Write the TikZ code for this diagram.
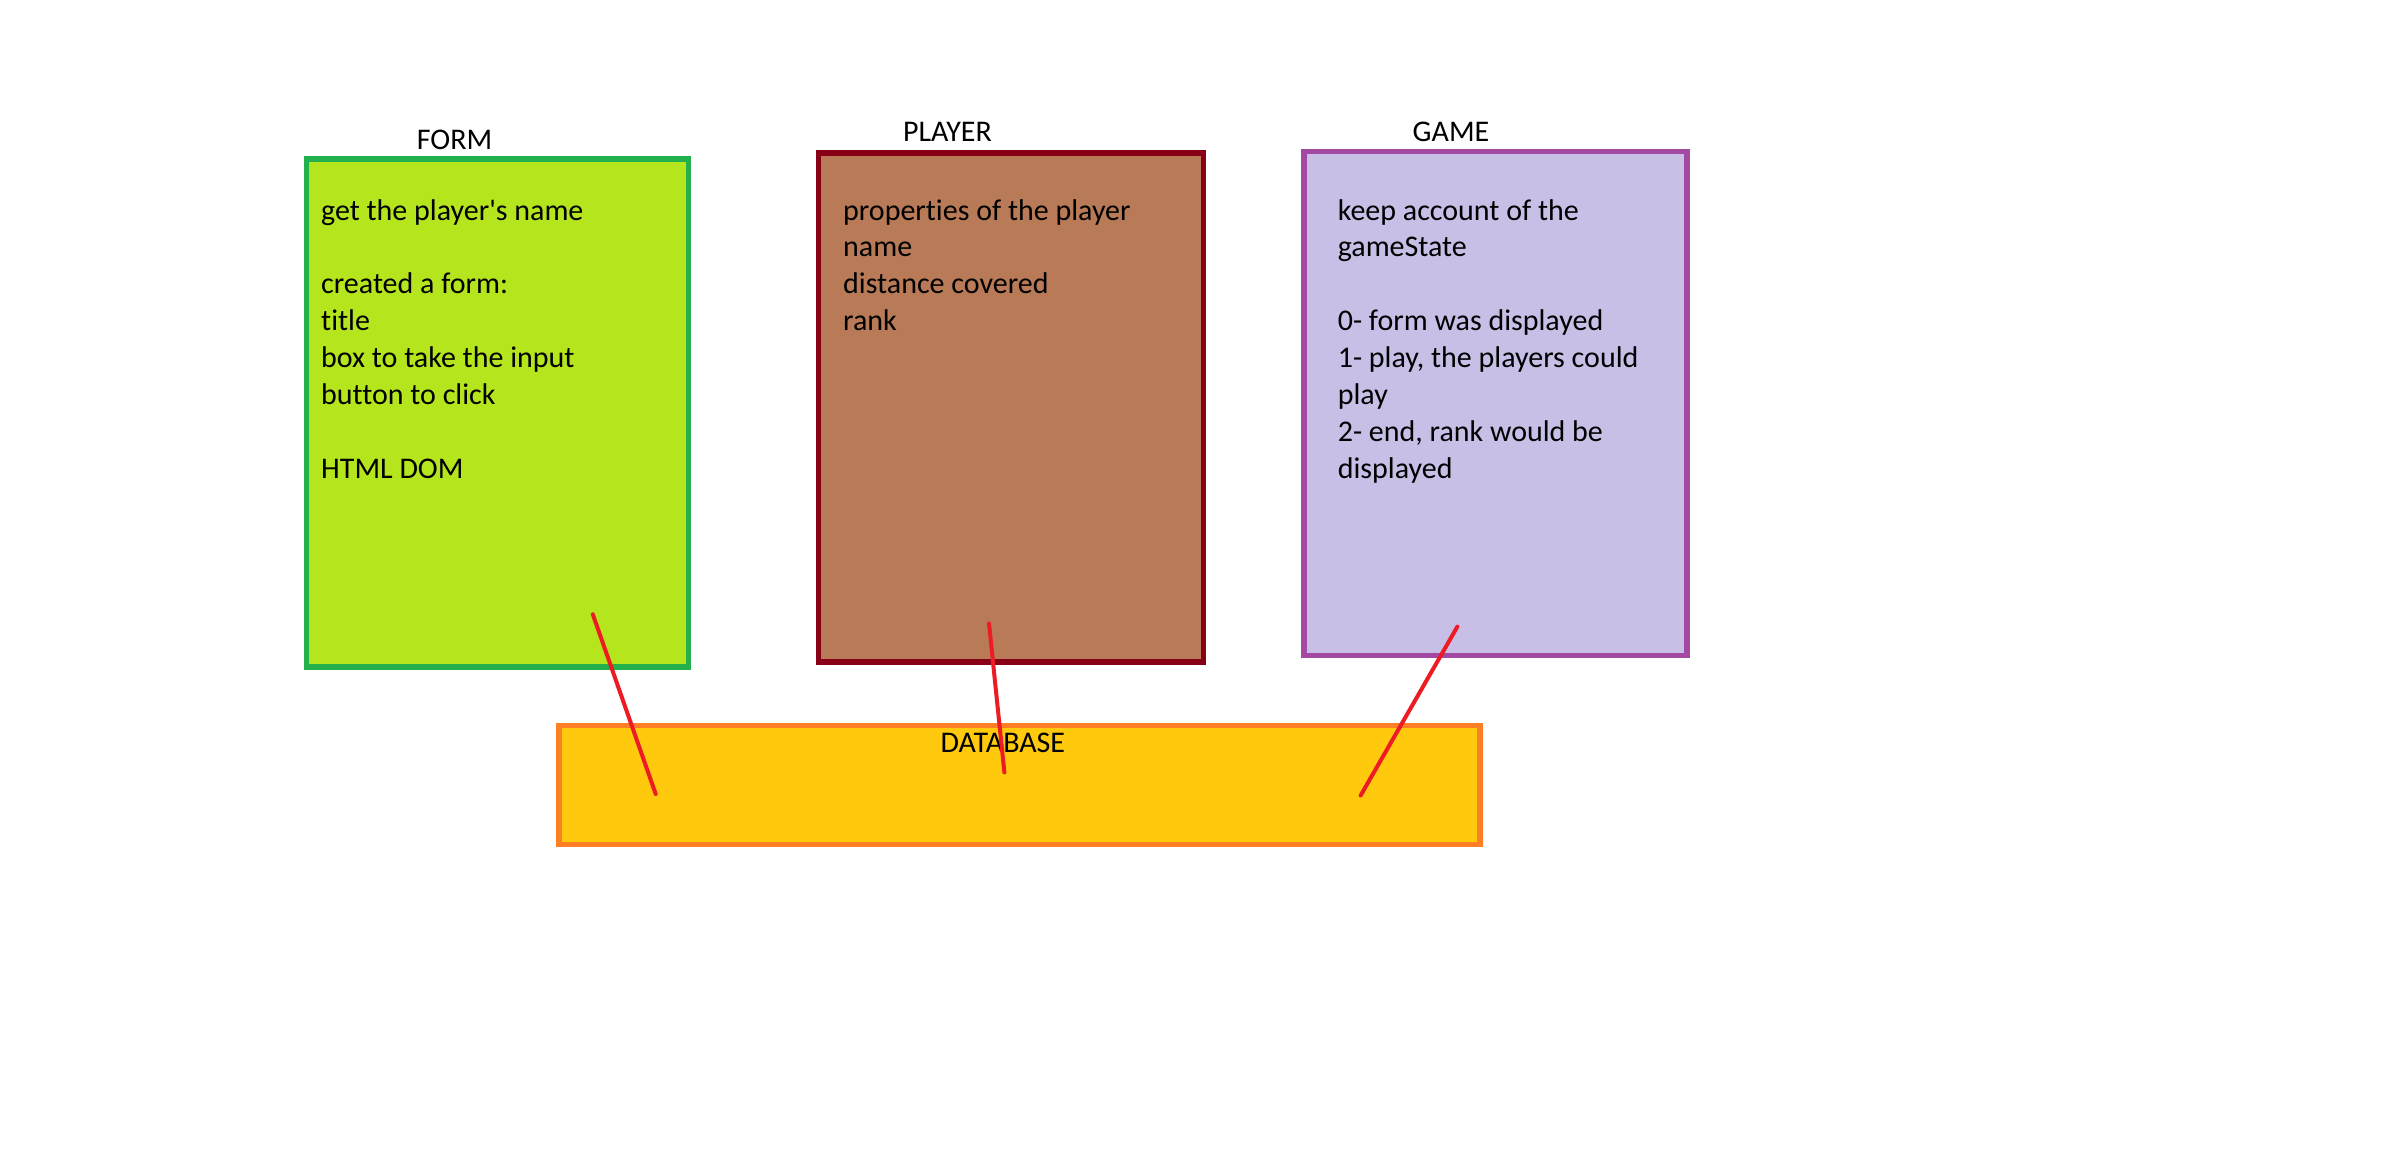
\documentclass[tikz,border=0pt]{standalone}
\usepackage{fontspec}
\setmainfont{Carlito}[Ligatures=NoCommon]
\usepackage{xcolor}
\usepackage{tikz}
\usetikzlibrary{positioning}
\definecolor{formedge}{RGB}{34,177,76}
\definecolor{formfill}{RGB}{181,230,29}
\definecolor{playeredge}{RGB}{136,0,21}
\definecolor{playerfill}{RGB}{185,122,87}
\definecolor{gameedge}{RGB}{163,73,164}
\definecolor{gamefill}{RGB}{200,191,231}
\definecolor{dbedge}{RGB}{255,127,39}
\definecolor{dbfill}{RGB}{255,201,14}
\definecolor{linkred}{RGB}{237,28,36}

\tikzset{
  every node/.style={font=\fontsize{30}{36.9}\selectfont},
  part/.style={rectangle, line width=5.5pt, inner sep=0pt},
  heading/.style={inner sep=0pt},
  notes/.style={inner sep=0pt, align=left, anchor=north west},
  link/.style={draw=linkred, line width=4pt, line cap=round}
}

\begin{document}
\begin{tikzpicture}[x=1pt, y=-1pt]
            \useasboundingbox[fill=white] (0,0) rectangle (2408,1164);

            % the three classes
            \node[part, draw=formedge, fill=formfill, minimum width=382pt, minimum height=508pt] (form) at (497.5,413) {};
            \node[part, draw=playeredge, fill=playerfill, minimum width=385pt, minimum height=509pt] (player) at (1011,407.5) {};
            \node[part, draw=gameedge, fill=gamefill, minimum width=383pt, minimum height=504pt] (game) at (1495.5,403.5) {};
            \node[part, draw=dbedge, fill=dbfill, minimum width=921pt, minimum height=119pt] (database) at (1019.5,785) {};

            \node[heading] (formtitle) at (454.6,139.7) {FORM};
            \node[heading] (playertitle) at (947.5,132) {PLAYER};
            \node[heading] (gametitle) at (1451,132) {GAME};
            \node[heading] (dbtitle) at (1002.8,743.3) {DATABASE};

            \node[notes] (formtext) at (321,199) {get the player\textquotesingle s name\\[36.9pt]
                created a form:\\ title\\ box to take the input\\ button to click\\[36.9pt]
                HTML DOM};
            \node[notes] (playertext) at (843,199) {properties of the player\\ name\\
                distance covered\\ rank};
            \node[notes] (gametext) at (1337.6,199) {keep account of the\\ gameState\\[36.9pt]
                0- form was displayed\\ 1- play, the players could\\ play\\
                2- end, rank would be\\ displayed};

            % links to the database
            \coordinate (formend) at (592.8,614.3);
            \coordinate (playerend) at (989,623.5);
            \coordinate (gameend) at (1457.4,626.6);
            \coordinate (dbform) at (655.7,794);
            \coordinate (dbplayer) at (1004.4,772.5);
            \coordinate (dbgame) at (1360.6,795.5);
            \draw[link] (formend) -- (dbform);
            \draw[link] (playerend) -- (dbplayer);
            \draw[link] (gameend) -- (dbgame);
        \end{tikzpicture}
\end{document}
